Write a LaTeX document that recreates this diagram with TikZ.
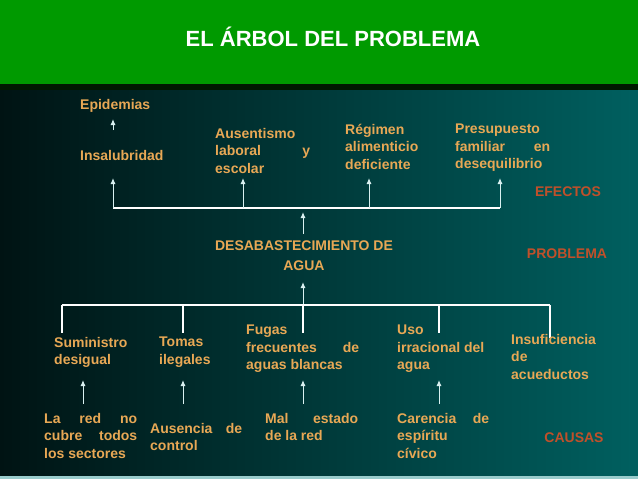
\documentclass[tikz,border=0pt]{standalone}
\usepackage{fontspec}
\setmainfont{Liberation Sans}
\definecolor{txt}{HTML}{E8A855}
\definecolor{lab}{HTML}{C0502A}
\definecolor{ln}{HTML}{D8F0F0}
\definecolor{hdr}{HTML}{009A00}
\begin{document}
\begin{tikzpicture}[x=1pt,y=-1pt,
  t/.style={anchor=north west,inner sep=0pt,text=txt,font=\bfseries\fontsize{14}{17.5}\selectfont,align=justify},
  lbl/.style={inner sep=0pt,text=lab,font=\bfseries\fontsize{14}{14}\selectfont},
  ar/.style={draw=ln,line width=1pt,-{Latex[length=6pt,width=5pt]}},
  wl/.style={draw=white,line width=1.2pt}]
\usetikzlibrary{arrows.meta}
\useasboundingbox (0,0) rectangle (638,479);
\shade[left color=black!85!teal,right color=teal!75!black] (0,88) rectangle (638,479);
\fill[hdr] (0,0) rectangle (638,84);
\fill[black!90!green] (0,84) rectangle (638,90);
\fill[teal!40] (0,476) rectangle (638,479);
\node[inner sep=0pt,text=white,font=\bfseries\fontsize{22}{24}\selectfont] (title) at (333,37) {EL ÁRBOL DEL PROBLEMA};
% effects
\node[t] (epi) at (80,99) {Epidemias};
\node[t] (ins) at (80,150) {Insalubridad};
\node[t,text width=95] (aus) at (215,128) {Ausentismo\\laboral\hfill y\\escolar};
\node[t,text width=90] (reg) at (345,124) {Régimen\\alimenticio\\deficiente};
\node[t,text width=95] (pre) at (455,124) {Presupuesto\\familiar\hfill en\\desequilibrio};
\coordinate (i1) at (113,208); \coordinate (i2) at (243,208);
\coordinate (i3) at (369,208); \coordinate (i4) at (500,208);
\draw[wl] (i1) -- (i4);
\draw[ar] (113,130) -- (113,119);
\draw[ar] (i1) -- (113,178);
\draw[ar] (i2) -- (243,178);
\draw[ar] (i3) -- (369,178);
\draw[ar] (i4) -- (500,178);
\node[lbl] (efe) at (568,192) {EFECTOS};
% problem
\node[inner sep=0pt,text=txt,font=\bfseries\fontsize{14}{20}\selectfont,align=center] (prob) at (304,256) {DESABASTECIMIENTO DE\\AGUA};
\draw[ar] (303,234) -- (303,212);
\node[lbl] (pro) at (567,254) {PROBLEMA};
% causes
\coordinate (c0) at (303,305);
\draw[ar] (c0) -- (303,282);
\draw[wl] (62,305) -- (550,305);
\draw[wl] (62,305) -- (62,333);
\draw[wl] (183,305) -- (183,333);
\draw[wl] (303,305) -- (303,333);
\draw[wl] (439,305) -- (439,333);
\draw[wl] (550,305) -- (550,338);
\node[t] (sum) at (54,337) {Suministro\\desigual};
\node[t] (tom) at (159,337) {Tomas\\ilegales};
\node[t,text width=113] (fug) at (246,325) {Fugas\\frecuentes\hfill de\\aguas blancas};
\node[t,text width=92] (uso) at (397,325) {Uso\\irracional del\\agua};
\node[t] (insu) at (511,334) {Insuficiencia\\de\\acueductos};
\node[t,text width=93] (lared) at (44,413) {La\hfill red\hfill no\\cubre\hfill todos\\los sectores};
\node[t,text width=92] (ause) at (150,423) {Ausencia\hfill de\\control};
\node[t,text width=93] (mal) at (265,413) {Mal\hfill estado\\de la red};
\node[t,text width=92] (car) at (397,413) {Carencia\hfill de\\espíritu\\cívico};
\draw[ar] (83,404) -- (83,380);
\draw[ar] (183,404) -- (183,380);
\draw[ar] (303,404) -- (303,380);
\draw[ar] (439,404) -- (439,380);
\node[lbl] (cau) at (574,438) {CAUSAS};
\end{tikzpicture}
\end{document}
